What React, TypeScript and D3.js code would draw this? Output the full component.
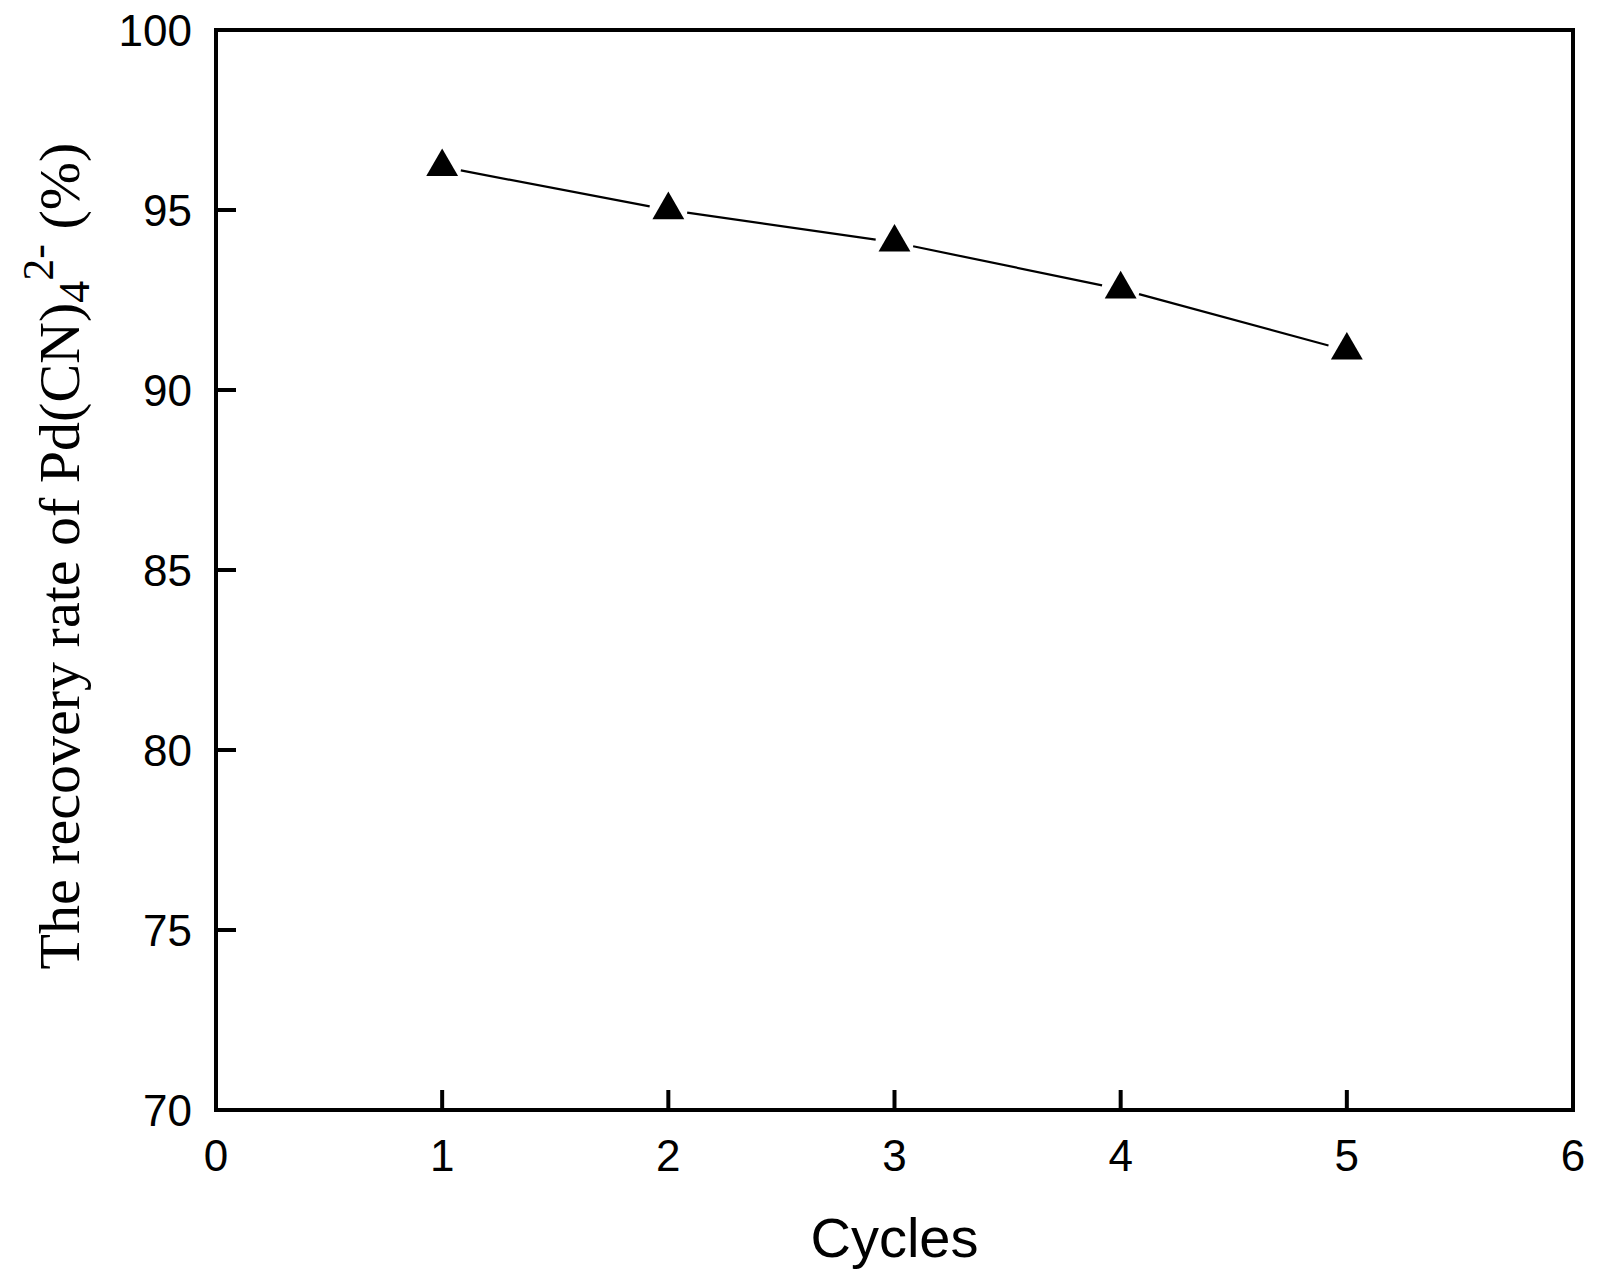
import { scaleLinear, symbol, symbolTriangle } from 'd3';

const cycles = [1, 2, 3, 4, 5];
const recoveryRate = [96.2, 95.0, 94.1, 92.8, 91.1];
const xTicks = [0, 1, 2, 3, 4, 5, 6];
const yTicks = [70, 75, 80, 85, 90, 95, 100];

const width = 1598;
const height = 1279;
const plot = { left: 216, right: 1573, top: 30, bottom: 1110 };
const sans = '"Liberation Sans", Arial, Helvetica, sans-serif';
const serif = '"Liberation Serif", "Times New Roman", Times, serif';

export default function App() {
  const x = scaleLinear().domain([0, 6]).range([plot.left, plot.right]);
  const y = scaleLinear().domain([70, 100]).range([plot.bottom, plot.top]);
  const tickLen = 20;
  const gap = 19;

  const points = cycles.map((c, i) => ({ px: x(c), py: y(recoveryRate[i]) }));

  // connecting segments stop short of the markers
  const segments = points.slice(1).map((p, i) => {
    const a = points[i];
    const dx = p.px - a.px;
    const dy = p.py - a.py;
    const len = Math.hypot(dx, dy);
    const ux = dx / len;
    const uy = dy / len;
    return {
      x1: a.px + ux * gap,
      y1: a.py + uy * gap,
      x2: p.px - ux * gap,
      y2: p.py - uy * gap,
    };
  });

  const triangle = symbol().type(symbolTriangle).size(440)() || '';

  return (
    <svg
      width={width}
      height={height}
      viewBox={`0 0 ${width} ${height}`}
      style={{ position: 'absolute', left: 0, top: 0, background: '#fff' }}
    >
      <rect x={0} y={0} width={width} height={height} fill="#fff" />

      {yTicks.map((t) => (
        <g key={`y${t}`}>
          <line
            x1={plot.left}
            x2={plot.left + tickLen}
            y1={y(t)}
            y2={y(t)}
            stroke="#000"
            strokeWidth={4}
          />
          <text
            x={plot.left - 24}
            y={y(t) + 16}
            textAnchor="end"
            fontFamily={sans}
            fontSize={44}
            fill="#000"
          >
            {t}
          </text>
        </g>
      ))}

      {xTicks.map((t) => (
        <g key={`x${t}`}>
          <line
            x1={x(t)}
            x2={x(t)}
            y1={plot.bottom}
            y2={plot.bottom - tickLen}
            stroke="#000"
            strokeWidth={4}
          />
          <text
            x={x(t)}
            y={plot.bottom + 61}
            textAnchor="middle"
            fontFamily={sans}
            fontSize={44}
            fill="#000"
          >
            {t}
          </text>
        </g>
      ))}

      <rect
        x={plot.left}
        y={plot.top}
        width={plot.right - plot.left}
        height={plot.bottom - plot.top}
        fill="none"
        stroke="#000"
        strokeWidth={4}
      />

      {segments.map((s, i) => (
        <line key={`s${i}`} {...s} stroke="#000" strokeWidth={2.2} />
      ))}

      {points.map((p, i) => (
        <path
          key={`p${i}`}
          d={triangle}
          transform={`translate(${p.px},${p.py})`}
          fill="#000"
        />
      ))}

      <text
        x={(plot.left + plot.right) / 2}
        y={1257}
        textAnchor="middle"
        fontFamily={sans}
        fontSize={56}
        fill="#000"
      >
        Cycles
      </text>

      <text
        transform={`translate(79, 556) rotate(-90)`}
        textAnchor="middle"
        fontFamily={serif}
        fontSize={58}
        fill="#000"
      >
        The recovery rate of Pd(CN)
        <tspan fontSize={44} dy={10}>4</tspan>
        <tspan fontSize={44} dy={-36}>2-</tspan>
        <tspan dy={26}> (%)</tspan>
      </text>
    </svg>
  );
}
